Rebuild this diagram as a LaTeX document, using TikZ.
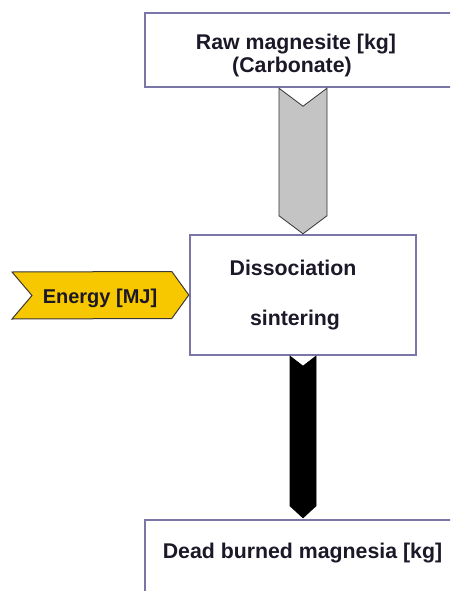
\documentclass[tikz,border=0pt]{standalone}
\usepackage{fontspec}
\setmainfont{Liberation Sans}
\usetikzlibrary{calc}
\definecolor{boxline}{RGB}{122,118,168}
\definecolor{greyfill}{RGB}{196,196,196}
\definecolor{yellowfill}{RGB}{247,200,0}
\definecolor{txt}{RGB}{28,24,40}
\tikzset{
  box/.style={draw=boxline, line width=2.4pt, fill=white, inner sep=0pt},
  lbl/.style={text=txt, font=\fontsize{21.3}{24}\selectfont\bfseries, inner sep=0pt, anchor=base},
  elbl/.style={lbl, font=\fontsize{20}{24}\selectfont\bfseries},
  flowgrey/.style={draw=black!80, line width=0.8pt, fill=greyfill},
  flowblack/.style={draw=black, line width=0.8pt, fill=black},
  flowyellow/.style={draw=black!70!yellow!40!black, line width=1pt, fill=yellowfill}
}
\begin{document}
\begin{tikzpicture}[x=1pt,y=-1pt]
\useasboundingbox (0,0) rectangle (450,591);
\clip (0,0) rectangle (450,591);
% boxes
\node[box, minimum width=315pt, minimum height=74pt] (top) at (302.5,50) {};
\node[box, minimum width=226pt, minimum height=120pt] (mid) at (303,295) {};
\node[box, minimum width=320pt, minimum height=90pt] (bot) at (305,565) {};
% texts
\node[lbl] (t1) at (296,50) {Raw magnesite [kg]};
\node[lbl] (t2) at (292,73) {(Carbonate)};
\node[lbl] (m1) at (293,275) {Dissociation};
\node[lbl] (m2) at (295,325) {sintering};
\node[lbl] (b1) at (302.5,558) {Dead burned magnesia [kg]};
% grey arrow top -> mid
\coordinate (ga) at (mid.north |- top.south);
\coordinate (gb) at (mid.north);
\draw[flowgrey] ($(ga)+(-24,0)$) -- ($(ga)+(0,18)$) -- ($(ga)+(24,0)$)
  -- ($(gb)+(24,-18)$) -- (gb) -- ($(gb)+(-24,-18)$) -- cycle;
% black arrow mid -> bot
\coordinate (ba) at (mid.south);
\coordinate (bb) at (mid.south |- bot.north);
\draw[flowblack] ($(ba)+(-13,0)$) -- ($(ba)+(0,10)$) -- ($(ba)+(13,0)$)
  -- ($(bb)+(13,-13)$) -- ($(bb)+(0,-1)$) -- ($(bb)+(-13,-13)$) -- cycle;
% energy arrow -> mid
\coordinate (ec) at (mid.west);
\coordinate (eo) at (12,295.5);
\draw[flowyellow] ($(eo)+(0,-23.5)$) -- ($(ec)+(-17,-23.5)$) -- (ec)
  -- ($(ec)+(-17,23.5)$) -- ($(eo)+(0,23.5)$) -- ($(eo)+(20,0)$) -- cycle;
\node[elbl] (e1) at (100,303) {Energy [MJ]};
\end{tikzpicture}
\end{document}
